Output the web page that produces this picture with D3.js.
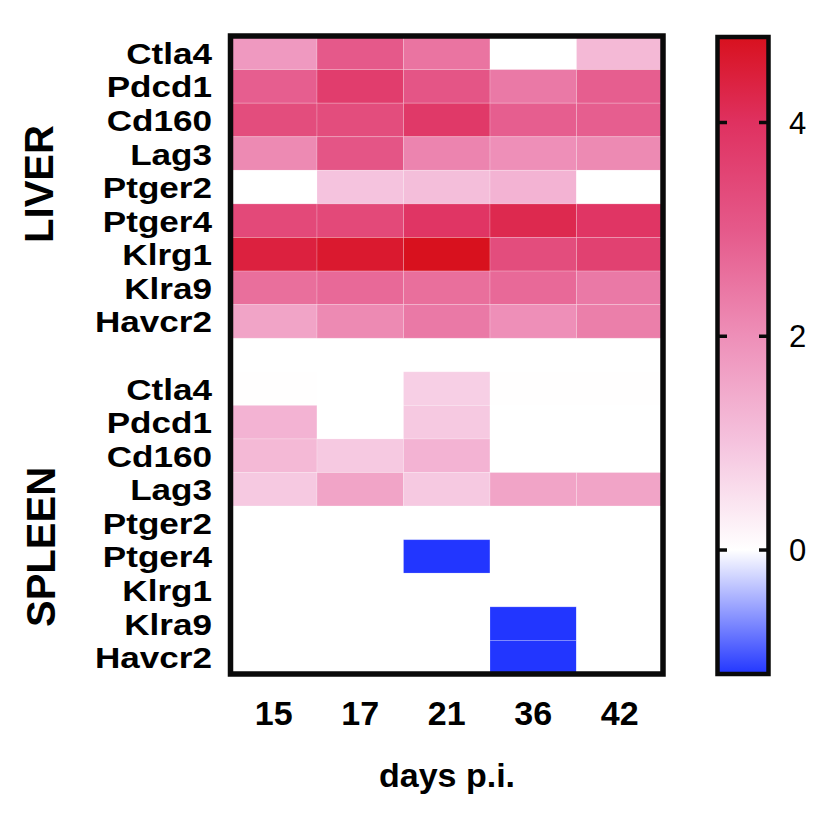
<!DOCTYPE html>
<html><head><meta charset="utf-8">
<script src="https://cdn.jsdelivr.net/npm/d3@7"></script>
<style>body{margin:0;background:#fff}</style>
</head><body><svg id="c" width="825" height="816"></svg>
<script>
// ---- data ----
const days = ["15", "17", "21", "36", "42"];
const genes = ["Ctla4", "Pdcd1", "Cd160", "Lag3", "Ptger2", "Ptger4", "Klrg1", "Klra9", "Havcr2"];
const groups = ["LIVER", "SPLEEN"];
const liverValues = [
  [1.8, 3.0, 2.5, 0.0, 1.2],
  [2.9, 3.7, 3.1, 2.4, 2.9],
  [3.3, 3.3, 3.8, 2.9, 2.9],
  [2.1, 3.1, 2.2, 2.0, 2.1],
  [0.0, 1.0, 1.1, 1.3, 0.0],
  [3.4, 3.4, 3.9, 4.2, 3.9],
  [4.4, 4.6, 4.8, 3.3, 3.6],
  [2.6, 2.7, 2.6, 2.7, 2.4],
  [1.6, 2.1, 2.4, 2.0, 2.3]
];
const spleenValues = [
  [0.02, 0.0, 0.8, 0.02, 0.02],
  [1.3, 0.0, 0.9, 0.0, 0.0],
  [1.2, 0.9, 1.3, 0.0, 0.0],
  [0.9, 1.6, 0.9, 1.6, 1.6],
  [0.0, 0.0, 0.0, 0.0, 0.0],
  [0.0, 0.0, -1.16, 0.0, 0.0],
  [0.0, 0.0, 0.0, 0.0, 0.0],
  [0.0, 0.0, 0.0, -1.16, 0.0],
  [0.0, 0.0, 0.0, -1.16, 0.0]
];
const colorTicks = [0, 2, 4];
const colorStops = [-1.16, 0, 1, 2, 3, 4, 4.8];
const colorRange = ["#2236ff", "#ffffff", "#f5c3de", "#ee8fb8", "#e5598a", "#df3160", "#d8111e"];
const xTitle = "days p.i.";

// ---- build ----
const svg = d3.select("#c");
svg.append("rect").attr("width", 825).attr("height", 816).attr("fill", "#fff");
const font = "'Liberation Sans', Arial, Helvetica, sans-serif";
const ink = "#000";

const rows = [];
genes.forEach((g, i) => rows.push({key: "L-" + g, gene: g, vals: liverValues[i]}));
rows.push({key: "gap", gene: "", vals: null});
genes.forEach((g, i) => rows.push({key: "S-" + g, gene: g, vals: spleenValues[i]}));

const x = d3.scaleBand().domain(days).range([230.5, 663]);
const y = d3.scaleBand().domain(rows.map(r => r.key)).range([36, 674]);
const color = d3.scaleLinear().domain(colorStops).range(colorRange).clamp(true);

const cells = [];
rows.forEach(r => { if (r.vals) r.vals.forEach((v, j) => cells.push({row: r.key, day: days[j], v})); });

svg.append("g").selectAll("rect").data(cells).join("rect")
  .attr("x", d => x(d.day)).attr("y", d => y(d.row))
  .attr("width", x.bandwidth()).attr("height", y.bandwidth())
  .attr("fill", d => color(d.v))
  .attr("stroke", "#ffffff").attr("stroke-opacity", 0.25).attr("stroke-width", 0.8);

// frame
svg.append("rect").attr("x", 230.5).attr("y", 36).attr("width", 432.5).attr("height", 638)
  .attr("fill", "none").attr("stroke", "#0a0a0a").attr("stroke-width", 5.5);

// row labels
svg.append("g").selectAll("text").data(rows.filter(r => r.vals)).join("text")
  .attr("transform", d => `translate(212,${y(d.key) + y.bandwidth() / 2 + 11}) scale(1.17,1)`)
  .attr("text-anchor", "end").attr("font-family", font).attr("font-weight", "bold")
  .attr("font-size", 30).attr("fill", ink).text(d => d.gene);

// group labels
const groupPos = [[53, 184], [55, 547]];
groups.forEach((g, i) => {
  svg.append("text").attr("transform", `translate(${groupPos[i][0]},${groupPos[i][1]}) rotate(-90)`)
    .attr("text-anchor", "middle").attr("font-family", font).attr("font-weight", "bold")
    .attr("font-size", 40).attr("fill", ink).text(g);
});

// x axis
const xAxis = svg.append("g").attr("transform", "translate(0,676)")
  .call(d3.axisBottom(x).tickSize(0).tickPadding(0));
xAxis.select(".domain").remove();
xAxis.selectAll("text").attr("y", 49).attr("dy", 0)
  .attr("font-family", font).attr("font-weight", "bold").attr("font-size", 34).attr("fill", ink);

svg.append("text").attr("x", 447).attr("y", 787).attr("text-anchor", "middle")
  .attr("font-family", font).attr("font-weight", "bold").attr("font-size", 34).attr("fill", ink)
  .text(xTitle);

// colorbar
const cb = d3.scaleLinear().domain([colorStops[0], colorStops[colorStops.length - 1]]).range([674, 37]);
const defs = svg.append("defs");
const grad = defs.append("linearGradient").attr("id", "cbg")
  .attr("x1", 0).attr("y1", 0).attr("x2", 0).attr("y2", 1);
const span = colorStops[colorStops.length - 1] - colorStops[0];
colorStops.slice().reverse().forEach(s => {
  grad.append("stop").attr("offset", ((colorStops[colorStops.length - 1] - s) / span * 100) + "%")
    .attr("stop-color", color(s));
});
svg.append("rect").attr("x", 717.5).attr("y", 37).attr("width", 51).attr("height", 637)
  .attr("fill", "url(#cbg)").attr("stroke", "#0a0a0a").attr("stroke-width", 4.5);
const tg = svg.append("g");
colorTicks.forEach(t => {
  tg.append("line").attr("x1", 717.5).attr("x2", 727).attr("y1", cb(t)).attr("y2", cb(t))
    .attr("stroke", "#0a0a0a").attr("stroke-width", 3.5);
  tg.append("line").attr("x1", 759).attr("x2", 768.5).attr("y1", cb(t)).attr("y2", cb(t))
    .attr("stroke", "#0a0a0a").attr("stroke-width", 3.5);
  tg.append("text").attr("x", 789).attr("y", cb(t) + 11).attr("font-family", font)
    .attr("font-size", 31).attr("fill", ink).text(t);
});
</script></body></html>
